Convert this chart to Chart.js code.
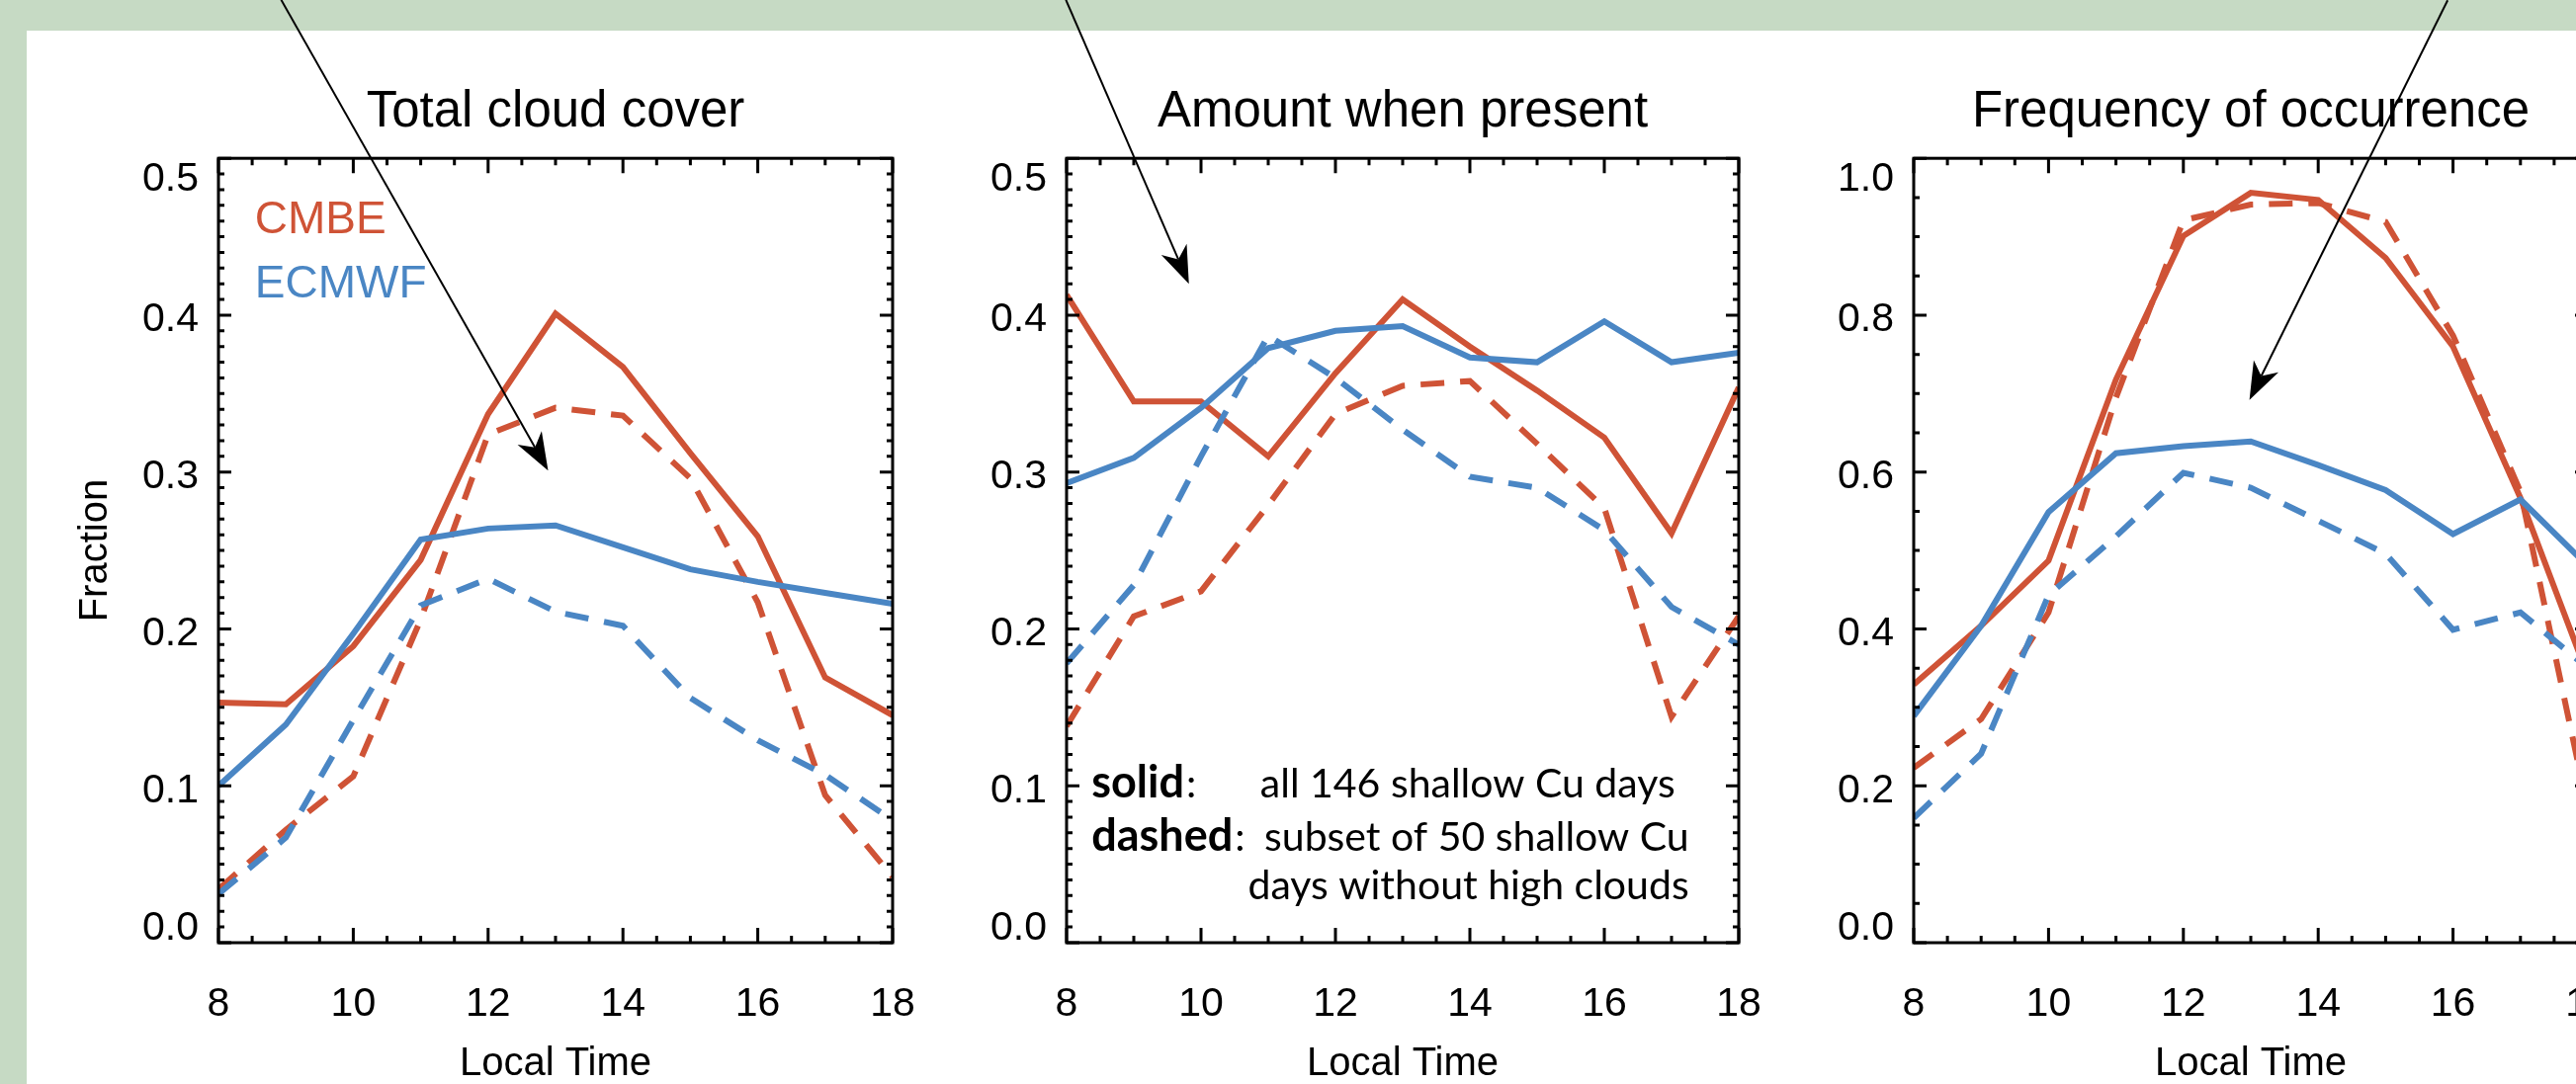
<!DOCTYPE html>
<html>
<head>
<meta charset="utf-8">
<script src="https://cdn.jsdelivr.net/npm/chart.js@4.4.0/dist/chart.umd.min.js"></script>
<style>
  html, body { margin: 0; padding: 0; overflow: hidden; }
  body { width: 2606px; height: 1097px; background: #c6dac4; position: relative; }
  #sheet { position: absolute; left: 27px; top: 31px; right: 0; bottom: 0; background: #fff; }
  canvas { position: absolute; top: 0; }
</style>
</head>
<body>
<div id="sheet"></div>
<canvas id="c1" width="960" height="1097" style="left:0px"></canvas>
<canvas id="c2" width="858" height="1097" style="left:960px"></canvas>
<canvas id="c3" width="900" height="1097" style="left:1818px"></canvas>
<script>
const hours = [8, 9, 10, 11, 12, 13, 14, 15, 16, 17, 18];

// Total cloud cover
const totalCmbe     = [0.153, 0.152, 0.189, 0.244, 0.337, 0.401, 0.367, 0.312, 0.259, 0.169, 0.145];
const totalEcmwf    = [0.100, 0.139, 0.197, 0.257, 0.264, 0.266, 0.252, 0.238, 0.230, 0.223, 0.216];
const totalCmbeSub  = [0.034, 0.072, 0.106, 0.206, 0.324, 0.341, 0.336, 0.296, 0.217, 0.094, 0.042];
const totalEcmwfSub = [0.031, 0.067, 0.142, 0.215, 0.232, 0.211, 0.202, 0.156, 0.129, 0.107, 0.078];

// Amount when present
const amountCmbe     = [0.413, 0.345, 0.345, 0.310, 0.363, 0.410, 0.380, 0.352, 0.322, 0.261, 0.354];
const amountEcmwf    = [0.293, 0.309, 0.341, 0.379, 0.390, 0.393, 0.373, 0.370, 0.396, 0.370, 0.376];
const amountCmbeSub  = [0.138, 0.208, 0.224, 0.279, 0.337, 0.355, 0.358, 0.318, 0.277, 0.144, 0.208];
const amountEcmwfSub = [0.178, 0.228, 0.310, 0.387, 0.360, 0.327, 0.297, 0.290, 0.263, 0.214, 0.190];

// Frequency of occurrence
const freqCmbe     = [0.329, 0.404, 0.487, 0.718, 0.901, 0.956, 0.947, 0.873, 0.760, 0.567, 0.340];
const freqEcmwf    = [0.289, 0.404, 0.549, 0.624, 0.633, 0.639, 0.609, 0.577, 0.521, 0.565, 0.480];
const freqCmbeSub  = [0.223, 0.285, 0.421, 0.695, 0.921, 0.941, 0.943, 0.919, 0.774, 0.575, 0.170];
const freqEcmwfSub = [0.159, 0.241, 0.443, 0.518, 0.599, 0.580, 0.538, 0.496, 0.399, 0.421, 0.350];

const RED = '#cf5336';
const BLUE = '#4a86c4';
const DASH = [24, 16];

Chart.defaults.font.family = '"Liberation Sans", Arial, sans-serif';
Chart.defaults.color = '#000';

// box with inward ticks on all four sides, like the IDL plot
const idlFrame = {
  id: 'idlFrame',
  beforeDraw(chart, args, o) {
    // IDL keeps the end labels inside the axis range
    const items = chart.scales.y.getLabelItems();
    items.forEach((it, i) => {
      let dy = o.labelShift;
      if (i === 0) dy = o.firstShift;
      if (i === items.length - 1) dy = o.lastShift;
      it.options.translation[1] += dy;
    });
  },
  afterDatasetsDraw(chart, args, o) {
    const { ctx, chartArea: a, scales: { x, y } } = chart;
    ctx.save();
    ctx.strokeStyle = '#000';
    ctx.lineWidth = 3;
    ctx.beginPath();
    let n = Math.round((x.max - x.min) / o.xMinor);
    for (let i = 0; i <= n; i++) {
      const v = x.min + i * o.xMinor;
      const px = x.getPixelForValue(v);
      const len = Math.abs(v / o.xMajor - Math.round(v / o.xMajor)) < 1e-6 ? 15 : 7;
      ctx.moveTo(px, a.bottom); ctx.lineTo(px, a.bottom - len);
      ctx.moveTo(px, a.top); ctx.lineTo(px, a.top + len);
    }
    n = Math.round((y.max - y.min) / o.yMinor);
    for (let i = 0; i <= n; i++) {
      const v = y.min + i * o.yMinor;
      const py = y.getPixelForValue(v);
      const len = Math.abs(v / o.yMajor - Math.round(v / o.yMajor)) < 1e-6 ? 13 : 6;
      ctx.moveTo(a.left, py); ctx.lineTo(a.left + len, py);
      ctx.moveTo(a.right, py); ctx.lineTo(a.right - len, py);
    }
    ctx.stroke();
    ctx.strokeRect(a.left, a.top, a.right - a.left, a.bottom - a.top);
    ctx.restore();
  }
};

// text notes and the arrows coming in from above
const notes = {
  id: 'notes',
  afterDraw(chart, args, o) {
    const { ctx, scales: { x, y } } = chart;
    ctx.save();
    ctx.textBaseline = 'alphabetic';
    (o.texts || []).forEach(t => {
      const px = x.getPixelForValue(t.x), py = y.getPixelForValue(t.y);
      ctx.font = t.font;
      ctx.fillStyle = t.color || '#000';
      ctx.textAlign = t.align || 'left';
      ctx.fillText(t.text, px, py);
      if (t.tail) {
        const w = ctx.measureText(t.text).width;
        ctx.font = t.tailFont;
        ctx.fillText(t.tail, px + w + 2, py);
      }
    });
    (o.arrows || []).forEach(ar => {
      const x0 = x.getPixelForValue(ar.from[0]), y0 = y.getPixelForValue(ar.from[1]);
      const x1 = x.getPixelForValue(ar.to[0]), y1 = y.getPixelForValue(ar.to[1]);
      const ang = Math.atan2(y1 - y0, x1 - x0);
      const c = Math.cos(ang), s = Math.sin(ang);
      const L = 38, W = 14, N = 27;
      ctx.strokeStyle = '#000';
      ctx.fillStyle = '#000';
      ctx.lineWidth = 2;
      ctx.beginPath();
      ctx.moveTo(x0, y0);
      ctx.lineTo(x1 - N * c, y1 - N * s);
      ctx.stroke();
      ctx.beginPath();
      ctx.moveTo(x1, y1);
      ctx.lineTo(x1 - L * c + W * s, y1 - L * s - W * c);
      ctx.lineTo(x1 - N * c, y1 - N * s);
      ctx.lineTo(x1 - L * c - W * s, y1 - L * s + W * c);
      ctx.closePath();
      ctx.fill();
    });
    ctx.restore();
  }
};

function line(data, color, dashed) {
  return {
    data: data,
    borderColor: color,
    borderWidth: 6,
    borderDash: dashed ? DASH : [],
    pointRadius: 0,
    tension: 0,
    fill: false
  };
}

function panel(id, cfg) {
  return new Chart(document.getElementById(id), {
    type: 'line',
    data: {
      labels: hours,
      datasets: [
        line(cfg.ecmwfSub, BLUE, true),
        line(cfg.ecmwf, BLUE, false),
        line(cfg.cmbeSub, RED, true),
        line(cfg.cmbe, RED, false)
      ]
    },
    options: {
      responsive: false,
      animation: false,
      devicePixelRatio: 1,
      layout: { padding: { left: 0, right: cfg.padRight, top: 83, bottom: 0 } },
      scales: {
        x: {
          type: 'linear',
          min: 8,
          max: 18,
          grid: { display: false },
          border: { display: false },
          ticks: { stepSize: 2, padding: 30, maxRotation: 0, font: { size: 41 } },
          title: { display: true, text: 'Local Time', font: { size: 40 }, padding: { top: 0, bottom: -4 } },
          afterFit: s => { s.height = 143; }
        },
        y: {
          min: 0,
          max: cfg.yMax,
          grid: { display: false },
          border: { display: false },
          ticks: { stepSize: cfg.yStep, padding: 12, font: { size: 41 }, callback: v => v.toFixed(1) },
          title: { display: !!cfg.yTitle, text: cfg.yTitle || '', font: { size: 40 }, padding: { top: 73, bottom: 0 } },
          afterFit: s => { s.width = cfg.wy; }
        }
      },
      plugins: {
        legend: { display: false },
        tooltip: { enabled: false },
        title: {
          display: true,
          text: cfg.title,
          fullSize: false,
          font: { size: 51, weight: 'normal' },
          padding: { top: 0, bottom: 16 }
        },
        idlFrame: {
          xMajor: 2, xMinor: 0.5, yMajor: cfg.yStep, yMinor: cfg.yMinor,
          labelShift: 5, firstShift: -14, lastShift: 21
        },
        notes: { texts: cfg.texts, arrows: cfg.arrows }
      }
    },
    plugins: [idlFrame, notes]
  });
}

const legendFont = '46px "Liberation Sans", Arial, sans-serif';
const noteFont = '41px Lato, "Open Sans", sans-serif';
const noteBold = 'bold 45px Lato, "Open Sans", sans-serif';

panel('c1', {
  title: 'Total cloud cover',
  yTitle: 'Fraction',
  yMax: 0.5, yStep: 0.1, yMinor: 0.01,
  wy: 221, padRight: 57,
  cmbe: totalCmbe, ecmwf: totalEcmwf, cmbeSub: totalCmbeSub, ecmwfSub: totalEcmwfSub,
  texts: [
    { text: 'CMBE', x: 8.54, y: 0.452, color: RED, font: legendFont },
    { text: 'ECMWF', x: 8.54, y: 0.411, color: BLUE, font: legendFont }
  ],
  arrows: [{ from: [8.93, 0.601], to: [12.89, 0.301] }]
});

panel('c2', {
  title: 'Amount when present',
  yMax: 0.5, yStep: 0.1, yMinor: 0.01,
  wy: 119, padRight: 59,
  cmbe: amountCmbe, ecmwf: amountEcmwf, cmbeSub: amountCmbeSub, ecmwfSub: amountEcmwfSub,
  texts: [
    { text: 'solid', tail: ':', x: 8.37, y: 0.0926, font: noteBold, tailFont: noteFont },
    { text: 'all 146 shallow Cu days', x: 10.88, y: 0.0926, font: noteFont },
    { text: 'dashed', tail: ':', x: 8.37, y: 0.0586, font: noteBold, tailFont: noteFont },
    { text: 'subset of 50 shallow Cu', x: 17.26, y: 0.0586, font: noteFont, align: 'right' },
    { text: 'days without high clouds', x: 17.26, y: 0.0277, font: noteFont, align: 'right' }
  ],
  arrows: [{ from: [7.99, 0.601], to: [9.82, 0.420] }]
});

panel('c3', {
  title: 'Frequency of occurrence',
  yMax: 1.0, yStep: 0.2, yMinor: 0.05,
  wy: 118, padRight: 100,
  cmbe: freqCmbe, ecmwf: freqEcmwf, cmbeSub: freqCmbeSub, ecmwfSub: freqEcmwfSub,
  texts: [],
  arrows: [{ from: [15.92, 1.2015], to: [12.98, 0.692] }]
});
</script>
</body>
</html>
